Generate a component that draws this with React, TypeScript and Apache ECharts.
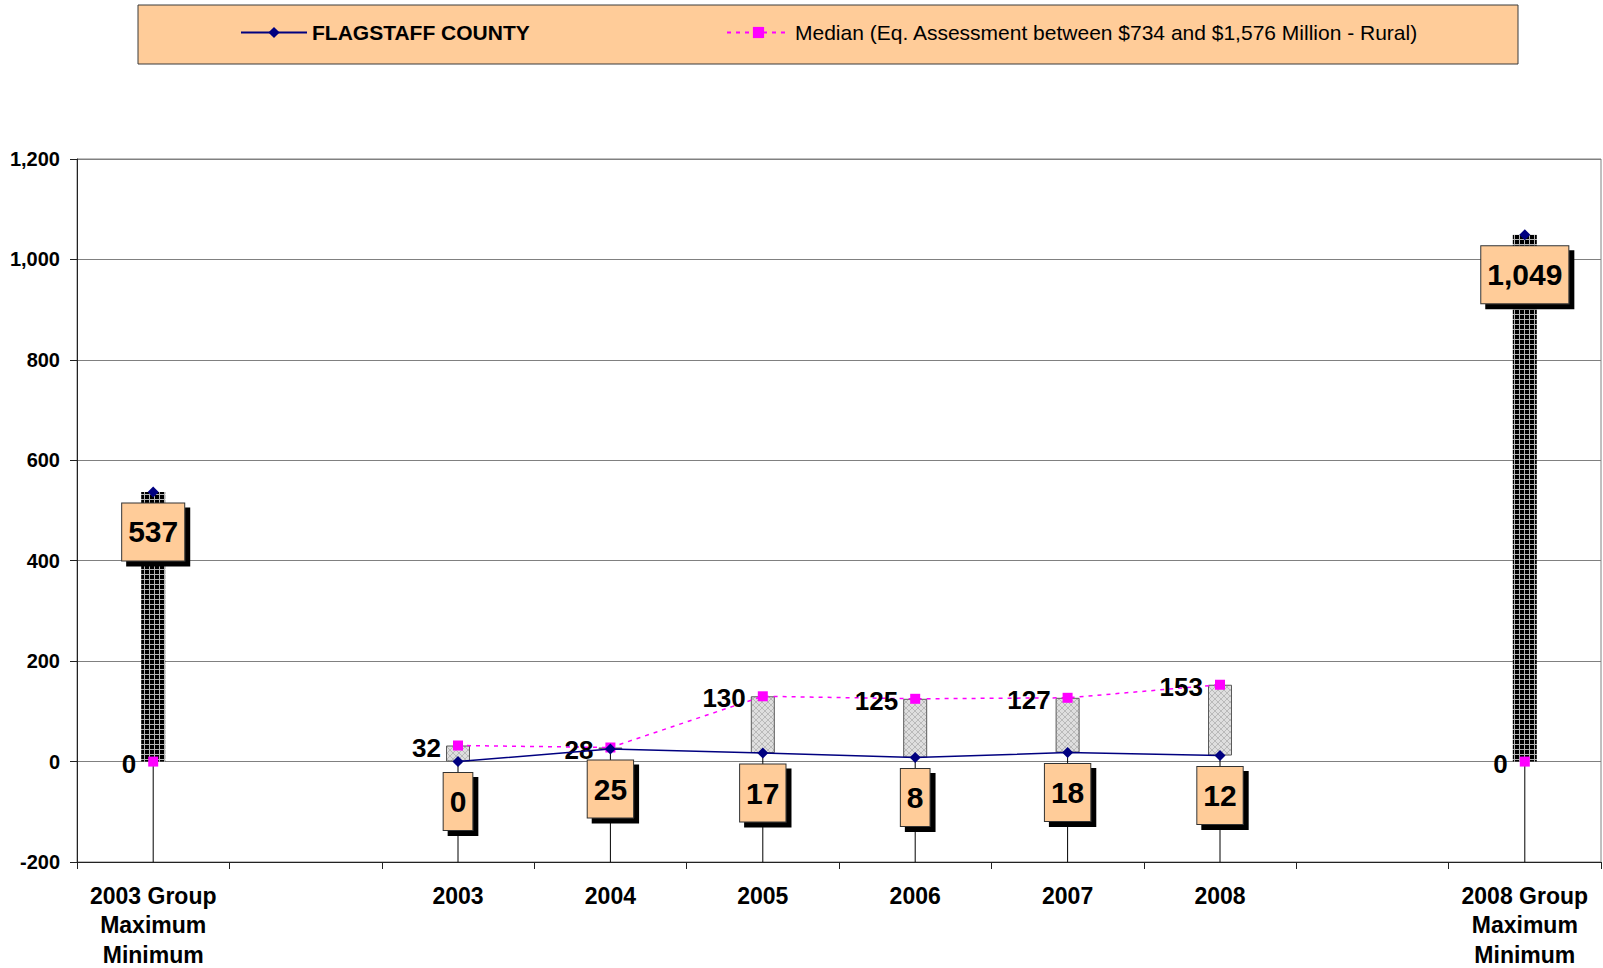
import React, { useEffect, useRef } from 'react';
import * as echarts from 'echarts';

const categories = [
  '2003 Group\nMaximum\nMinimum',
  '',
  '2003',
  '2004',
  '2005',
  '2006',
  '2007',
  '2008',
  '',
  '2008 Group\nMaximum\nMinimum',
];
const countyValues: (number | null)[] = [537, null, 0, 25, 17, 8, 18, 12, null, 1049];
const medianValues: (number | null)[] = [0, null, 32, 28, 130, 125, 127, 153, null, 0];
const groupColumnIndexes = [0, 9];
const yAxisMin = -200;
const yAxisMax = 1200;
const yAxisInterval = 200;
const countyName = 'FLAGSTAFF COUNTY';
const medianName = 'Median (Eq. Assessment between $734 and $1,576 Million - Rural)';

const FONT = 'Arial, "Liberation Sans", sans-serif';

function makePattern(size: number, draw: (ctx: CanvasRenderingContext2D) => void) {
  const c = document.createElement('canvas');
  c.width = size;
  c.height = size;
  const ctx = c.getContext('2d') as CanvasRenderingContext2D;
  draw(ctx);
  return { image: c, repeat: 'repeat', imageWidth: size, imageHeight: size } as any;
}

const fmt = (v: any) => Number(v).toLocaleString('en-US');

export default function App() {
  const ref = useRef<HTMLDivElement>(null);

  useEffect(() => {
    document.body.style.margin = '0';
    if (!ref.current) return;
    const chart = echarts.init(ref.current, undefined, { renderer: 'svg' });

    const darkPattern = makePattern(5, (ctx) => {
      ctx.fillStyle = '#000000';
      ctx.fillRect(0, 0, 5, 5);
      ctx.fillStyle = '#b4b4b4';
      ctx.fillRect(4, 0, 1, 5);
      ctx.fillRect(0, 4, 5, 1);
    });
    const lightPattern = makePattern(6, (ctx) => {
      ctx.fillStyle = '#dedede';
      ctx.fillRect(0, 0, 6, 6);
      ctx.fillStyle = '#b9b9b9';
      for (let i = 0; i < 6; i++) {
        ctx.fillRect(i, i, 1, 1);
        ctx.fillRect(5 - i, i, 1, 1);
      }
    });

    const lowValues = categories.map((_, i) => {
      const a = countyValues[i];
      const b = medianValues[i];
      if (a == null || b == null) return null;
      return Math.min(a, b);
    });
    const highValues = categories.map((_, i) => {
      const a = countyValues[i];
      const b = medianValues[i];
      if (a == null || b == null) return null;
      return Math.max(a, b);
    });

    const baseData = lowValues.map((v) => (v == null ? '-' : v));
    const rangeData = highValues.map((h, i) => {
      const l = lowValues[i];
      if (h == null || l == null) return '-';
      const isGroup = groupColumnIndexes.includes(i);
      return {
        value: h - l,
        itemStyle: isGroup
          ? { color: darkPattern, borderWidth: 0 }
          : { color: lightPattern, borderColor: '#5a5a5a', borderWidth: 1 },
      };
    });
    const dropLineData = lowValues
      .map((v, i) => (v == null ? null : [i, v]))
      .filter((d) => d != null);

    const option: any = {
      animation: false,
      backgroundColor: '#ffffff',
      graphic: [
        {
          type: 'rect',
          z: 0,
          shape: { x: 138, y: 5, width: 1380, height: 59 },
          style: { fill: '#FFCC99', stroke: '#3a3a3a', lineWidth: 1 },
        },
      ],
      legend: [
        {
          data: [{ name: countyName, textStyle: { fontWeight: 'bold' } }],
          left: 240,
          top: 22,
          padding: 0,
          itemWidth: 66,
          itemHeight: 14,
          selectedMode: false,
          z: 10,
          textStyle: { fontSize: 21, color: '#000', fontFamily: FONT },
        },
        {
          data: [{ name: medianName, textStyle: { fontWeight: 'normal' } }],
          left: 726,
          top: 22,
          padding: 0,
          itemWidth: 63,
          itemHeight: 14,
          selectedMode: false,
          z: 10,
          textStyle: { fontSize: 21, color: '#000', fontFamily: FONT },
        },
      ],
      grid: {
        left: 77,
        right: 2,
        top: 159,
        bottom: 106,
        show: true,
        borderColor: '#808080',
        borderWidth: 1,
        containLabel: false,
        outerBoundsMode: 'none',
      },
      xAxis: {
        type: 'category',
        data: categories,
        boundaryGap: true,
        axisLine: { onZero: false, lineStyle: { color: '#222', width: 1 } },
        axisTick: { show: true, interval: 0, length: 7, lineStyle: { color: '#222' } },
        axisLabel: {
          interval: 0,
          margin: 19,
          fontSize: 23,
          fontWeight: 'bold',
          color: '#000',
          fontFamily: FONT,
          lineHeight: 29.5,
        },
        splitLine: { show: false },
      },
      yAxis: {
        type: 'value',
        min: yAxisMin,
        max: yAxisMax,
        interval: yAxisInterval,
        axisLine: { show: true, lineStyle: { color: '#222', width: 1 } },
        axisTick: { show: true, length: 7, lineStyle: { color: '#222' } },
        axisLabel: {
          margin: 17,
          fontSize: 20,
          fontWeight: 'bold',
          color: '#000',
          fontFamily: FONT,
          formatter: (v: number) => fmt(v),
        },
        splitLine: { show: true, lineStyle: { color: '#808080', width: 1 } },
      },
      series: [
        {
          type: 'custom',
          name: 'dropLines',
          silent: true,
          z: 1,
          renderItem: (params: any, api: any) => {
            const top = api.coord([api.value(0), api.value(1)]);
            const bottom = api.coord([api.value(0), yAxisMin]);
            return {
              type: 'line',
              shape: { x1: top[0], y1: top[1], x2: bottom[0], y2: bottom[1] },
              style: { stroke: '#000', lineWidth: 1 },
            };
          },
          data: dropLineData,
        },
        {
          type: 'bar',
          name: 'base',
          stack: 'range',
          barWidth: 24,
          silent: true,
          z: 2,
          itemStyle: { color: 'rgba(0,0,0,0)' },
          data: baseData,
        },
        {
          type: 'bar',
          name: 'range',
          stack: 'range',
          barWidth: 24,
          silent: true,
          z: 2,
          data: rangeData,
        },
        {
          type: 'line',
          name: medianName,
          z: 3,
          data: medianValues.map((v) => (v == null ? '-' : v)),
          connectNulls: false,
          symbol: 'rect',
          symbolSize: 10,
          showAllSymbol: true,
          lineStyle: { color: '#FF00FF', width: 1.5, type: [4, 5] },
          itemStyle: { color: '#FF00FF' },
          label: {
            show: true,
            position: 'left',
            distance: 12,
            offset: [0, 2],
            fontSize: 26,
            fontWeight: 'bold',
            color: '#000',
            fontFamily: FONT,
            formatter: (p: any) => fmt(p.value),
          },
        },
        {
          type: 'line',
          name: countyName,
          z: 4,
          data: countyValues.map((v) => (v == null ? '-' : v)),
          connectNulls: false,
          symbol: 'diamond',
          symbolSize: 11,
          showAllSymbol: true,
          lineStyle: { color: '#000080', width: 1.5 },
          itemStyle: { color: '#000080' },
          label: {
            show: true,
            position: 'bottom',
            distance: 6,
            fontSize: 30,
            fontWeight: 'bold',
            color: '#000',
            fontFamily: FONT,
            lineHeight: 31,
            backgroundColor: '#FFCC99',
            borderColor: '#333',
            borderWidth: 1,
            padding: [13, 6, 13, 6],
            shadowColor: '#000',
            shadowBlur: 0,
            shadowOffsetX: 5,
            shadowOffsetY: 5,
            formatter: (p: any) => fmt(p.value),
          },
        },
      ],
    };

    chart.setOption(option);
    return () => {
      chart.dispose();
    };
  }, []);

  return <div ref={ref} style={{ width: 1603, height: 968 }} />;
}
